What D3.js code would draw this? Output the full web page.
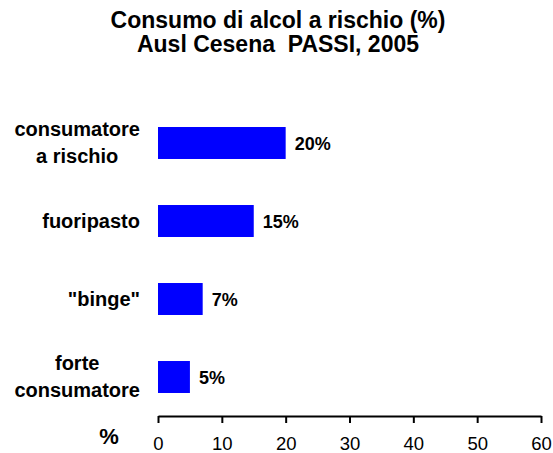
<!DOCTYPE html>
<html>
<head>
<meta charset="utf-8">
<script src="https://cdn.jsdelivr.net/npm/d3@7"></script>
<style>
  html, body { margin: 0; padding: 0; background: #fff; }
  svg { display: block; font-family: Arial, "Liberation Sans", sans-serif; }
</style>
</head>
<body>
<svg id="chart" width="553" height="453"></svg>
<script>
// Risky alcohol consumption, Ausl Cesena, PASSI 2005
const categories = [
  ["consumatore", "a rischio"],
  ["fuoripasto"],
  ["\"binge\""],
  ["forte", "consumatore"]
];
const values = [20, 15, 7, 5];
const tickValues = [0, 10, 20, 30, 40, 50, 60];
const titleLines = ["Consumo di alcol a rischio (%)", "Ausl Cesena  PASSI, 2005"];
const axisLabel = "%";

const svg = d3.select("#chart");
const keys = categories.map(c => c.join(" "));

const x = d3.scaleLinear().domain([0, 60]).range([158, 541]);
const y = d3.scaleBand().domain(keys).range([104, 416]).paddingInner(0.59).paddingOuter(0.295);

// Title
svg.append("text")
  .attr("text-anchor", "middle")
  .attr("font-weight", "bold")
  .attr("font-size", 23)
  .style("white-space", "pre")
  .selectAll("tspan")
  .data(titleLines)
  .join("tspan")
  .attr("x", 278)
  .attr("y", (d, i) => 27.5 + i * 24)
  .text(d => d);

// Bars
svg.append("g")
  .selectAll("rect")
  .data(values)
  .join("rect")
  .attr("x", x(0))
  .attr("y", (d, i) => y(keys[i]))
  .attr("width", d => x(d) - x(0))
  .attr("height", y.bandwidth())
  .attr("fill", "#0000ff");

// Value labels
svg.append("g")
  .selectAll("text")
  .data(values)
  .join("text")
  .attr("x", d => x(d) + 9)
  .attr("y", (d, i) => y(keys[i]) + y.bandwidth() / 2 + 6.5)
  .attr("font-weight", "bold")
  .attr("font-size", 18)
  .text(d => d + "%");

// Category labels: lines centred on each other, block right-aligned at x=140
const lineGap = 27;
const catG = svg.append("g");
categories.forEach((lines, i) => {
  const cy = y(keys[i]) + y.bandwidth() / 2;
  const t = catG.append("text")
    .attr("text-anchor", "middle")
    .attr("font-weight", "bold")
    .attr("font-size", 20);
  const first = cy + 6.5 - (lines.length - 1) * lineGap / 2;
  const spans = t.selectAll("tspan").data(lines).join("tspan")
    .attr("x", 0)
    .attr("y", (d, j) => first + j * lineGap)
    .text(d => d);
  const w = d3.max(spans.nodes(), n => n.getComputedTextLength());
  spans.attr("x", 140 - w / 2);
});

// X axis
const axis = svg.append("g")
  .attr("transform", "translate(0,416)")
  .call(d3.axisBottom(x).tickValues(tickValues).tickSize(7).tickSizeOuter(0).tickPadding(14));
axis.select(".domain").attr("stroke", "#000").attr("stroke-width", 2);
axis.selectAll(".tick line").attr("stroke", "#000").attr("stroke-width", 2);
axis.selectAll(".tick text")
  .attr("font-family", "Arial, 'Liberation Sans', sans-serif")
  .attr("font-size", 18.5)
  .attr("fill", "#000");

// Axis unit label
svg.append("text")
  .attr("x", 109)
  .attr("y", 444)
  .attr("text-anchor", "middle")
  .attr("font-weight", "bold")
  .attr("font-size", 22)
  .text(axisLabel);
</script>
</body>
</html>
